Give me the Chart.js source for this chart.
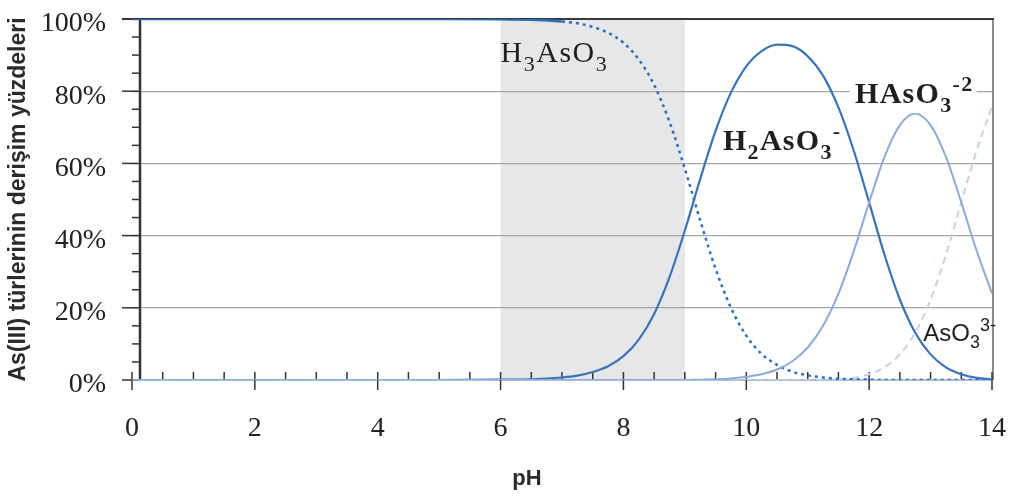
<!DOCTYPE html>
<html>
<head>
<meta charset="utf-8">
<script src="https://cdn.jsdelivr.net/npm/chart.js@4/dist/chart.umd.min.js"></script>
<style>
  html, body { margin: 0; padding: 0; background: #fff; }
  #wrap { width: 1011px; height: 498px; }
</style>
</head>
<body>
<div id="wrap"><canvas id="chart" width="1011" height="498"></canvas></div>
<script>
// pH points and species percentages
const ph = [0, 1, 2, 3, 4, 5, 6, 6.5, 7,
  7.25, 7.5, 7.75, 8, 8.25, 8.5, 8.75, 9, 9.25, 9.5, 9.75, 10,
  10.25, 10.5, 10.75, 11, 11.25, 11.5, 11.75, 12, 12.25, 12.5, 12.75, 13,
  13.25, 13.5, 13.75, 14];

const h3aso3 = [100, 100, 100, 100, 100, 100, 99.9, 99.8, 99.3,
  98.8, 97.8, 96.2, 93.4, 88.8, 81.7, 71.5, 58.5, 44.2, 30.8, 20.0, 12.3,
  7.2, 4.2, 2.3, 1.3, 0.7, 0.3, 0.2, 0.1, 0, 0, 0, 0,
  0, 0, 0, 0];

const h2aso3 = [0, 0, 0, 0, 0, 0, 0.1, 0.2, 0.7,
  1.2, 2.2, 3.8, 6.6, 11.2, 18.3, 28.5, 41.4, 55.7, 69.0, 79.6, 86.9,
  91.1, 92.9, 92.5, 89.7, 84.3, 75.5, 63.5, 49.2, 34.7, 22.3, 13.1, 7.1,
  3.5, 1.6, 0.6, 0.2];

const haso3 = [0, 0, 0, 0, 0, 0, 0, 0, 0,
  0, 0, 0, 0, 0, 0, 0, 0, 0.1, 0.2, 0.4, 0.9,
  1.6, 2.9, 5.2, 9.0, 15.0, 23.9, 35.7, 49.2, 61.8, 70.6, 73.8, 70.6,
  61.8, 49.2, 35.8, 24.0];

const aso3 = [0, 0, 0, 0, 0, 0, 0, 0, 0,
  0, 0, 0, 0, 0, 0, 0, 0, 0, 0, 0, 0,
  0, 0, 0, 0, 0.1, 0.2, 0.6, 1.6, 3.5, 7.1, 13.1, 22.3,
  34.7, 49.2, 63.6, 75.8];

const xTicks = [0, 2, 4, 6, 8, 10, 12, 14];
const yTicks = [0, 20, 40, 60, 80, 100];
const shaded = [6, 9]; // grey pH window

const pts = arr => ph.map((x, i) => ({ x, y: arr[i] }));

const SERIF = '"Liberation Serif", "Times New Roman", serif';
const SANS = '"Liberation Sans", Arial, sans-serif';

function line(ctx, x0, y0, x1, y1) {
  ctx.beginPath();
  ctx.moveTo(x0, y0);
  ctx.lineTo(x1, y1);
  ctx.stroke();
}

// draws formula pieces: [text, 'n' | 'sub' | 'sup']
function chem(ctx, x, y, parts, weight, family, size, spacing) {
  let cx = x;
  for (const [t, k] of parts) {
    const s = k === 'n' ? size : Math.round(size * 0.74);
    ctx.font = `${weight} ${s}px ${family}`;
    const dy = k === 'sub' ? size * 0.3 : k === 'sup' ? -size * 0.4 : 0;
    for (const ch of t) {
      ctx.fillText(ch, cx, y + dy);
      cx += ctx.measureText(ch).width + spacing;
    }
  }
  return cx;
}

const labels = [
  { at: [6.0, 88.1], weight: 'normal', family: SERIF, size: 30, spacing: 1.5,
    parts: [['H', 'n'], ['3', 'sub'], ['AsO', 'n'], ['3', 'sub']] },
  { at: [9.62, 63.7], weight: 'bold', family: SERIF, size: 30, spacing: 1.3,
    parts: [['H', 'n'], ['2', 'sub'], ['AsO', 'n'], ['3', 'sub'], ['-', 'sup']] },
  { at: [11.77, 76.7], weight: 'bold', family: SERIF, size: 30, spacing: 1.3, knockout: true,
    parts: [['HAsO', 'n'], ['3', 'sub'], ['-2', 'sup']] },
  { at: [12.88, 10.8], weight: 'normal', family: SANS, size: 24, spacing: 0,
    parts: [['AsO', 'n'], ['3', 'sub'], ['3-', 'sup']] }
];

const decor = {
  id: 'decor',
  beforeDraw(chart) {
    const { ctx, chartArea: a, scales: { x } } = chart;
    const x0 = x.getPixelForValue(shaded[0]);
    const x1 = x.getPixelForValue(shaded[1]);
    ctx.save();
    ctx.fillStyle = '#e6e7e9';
    ctx.fillRect(x0, a.top, x1 - x0, a.bottom - a.top);
    ctx.restore();
  },
  beforeDatasetsDraw(chart) {
    const { ctx, chartArea: a, scales: { x, y } } = chart;
    ctx.save();
    ctx.lineCap = 'butt';
    // frame
    ctx.strokeStyle = '#8a8a8a';
    ctx.lineWidth = 2;
    line(ctx, a.right + 1, a.top, a.right + 1, a.bottom);
    ctx.strokeStyle = '#3a3a3a';
    line(ctx, a.left - 10, a.top, a.right + 2, a.top);
    // left axis, sits a little inside the plot
    const ax = a.left + 8;
    ctx.strokeStyle = '#333';
    ctx.lineWidth = 2.5;
    line(ctx, ax, a.top, ax, a.bottom);
    ctx.lineWidth = 1.5;
    for (let v = 0; v <= 100; v += 5) {
      const py = y.getPixelForValue(v);
      line(ctx, v % 20 === 0 ? a.left - 10 : a.left, py, ax, py);
    }
    // bottom axis
    ctx.strokeStyle = '#8faadc';
    ctx.lineWidth = 1.5;
    line(ctx, a.left, a.bottom, a.right, a.bottom);
    ctx.strokeStyle = '#333';
    for (let v = 0; v <= 14; v += 0.5) {
      const px = x.getPixelForValue(v);
      line(ctx, px, a.bottom - 8, px, v % 2 === 0 ? a.bottom + 10 : a.bottom - 1);
    }
    ctx.restore();
  },
  afterDraw(chart) {
    const { ctx, chartArea: a, scales: { x, y } } = chart;
    ctx.save();
    ctx.textBaseline = 'alphabetic';
    ctx.textAlign = 'left';
    for (const l of labels) {
      const px = x.getPixelForValue(l.at[0]);
      const py = y.getPixelForValue(l.at[1]);
      if (l.knockout) {
        ctx.globalAlpha = 0;
        const end = chem(ctx, px, py, l.parts, l.weight, l.family, l.size, l.spacing);
        ctx.globalAlpha = 1;
        ctx.fillStyle = '#fff';
        ctx.fillRect(px - 5, py - l.size, end - px + 8, l.size + 10);
      }
      ctx.fillStyle = '#1f1f1f';
      chem(ctx, px, py, l.parts, l.weight, l.family, l.size, l.spacing);
    }
    // x axis title
    ctx.fillStyle = '#2b2b2b';
    ctx.font = `bold 22px ${SANS}`;
    ctx.textAlign = 'center';
    ctx.textBaseline = 'middle';
    ctx.fillText('pH', (a.left + a.right) / 2 - 35, 479);
    ctx.restore();
  }
};

const noPad = s => {
  s.paddingTop = 0; s.paddingBottom = 0;
  s.paddingLeft = 0; s.paddingRight = 0;
};

new Chart(document.getElementById('chart'), {
  type: 'line',
  data: {
    datasets: [
      {
        label: 'HAsO3-2',
        data: pts(haso3),
        borderColor: '#8eaad8',
        borderWidth: 2,
        order: 0
      },
      {
        label: 'H3AsO3',
        data: pts(h3aso3),
        borderColor: '#2e6fba',
        borderWidth: 2.5,
        segment: { borderDash: c => c.p0.parsed.x >= 7 ? [3, 4] : [] },
        order: 1
      },
      {
        label: 'H2AsO3-',
        data: pts(h2aso3),
        borderColor: '#3b73b9',
        borderWidth: 2.2,
        order: 2
      },
      {
        label: 'AsO3 3-',
        data: pts(aso3),
        borderColor: '#c3d2ec',
        borderWidth: 2,
        borderDash: [7, 5],
        order: 3
      }
    ]
  },
  options: {
    responsive: false,
    animation: false,
    devicePixelRatio: 1,
    layout: { padding: { top: 19, right: 19, left: 0, bottom: 0 } },
    elements: {
      point: { radius: 0 },
      line: { cubicInterpolationMode: 'monotone', fill: false }
    },
    plugins: { legend: { display: false }, tooltip: { enabled: false } },
    scales: {
      x: {
        type: 'linear',
        min: 0,
        max: 14,
        afterFit: s => { s.height = 118; noPad(s); },
        afterBuildTicks: s => { s.ticks = xTicks.map(v => ({ value: v })); },
        grid: { display: false, drawTicks: false },
        border: { display: false },
        ticks: {
          autoSkip: false,
          maxRotation: 0,
          padding: 32,
          color: '#222',
          font: { family: SERIF, size: 28 }
        }
      },
      y: {
        min: 0,
        max: 100,
        afterFit: s => { s.width = 132; noPad(s); },
        afterBuildTicks: s => { s.ticks = yTicks.map(v => ({ value: v })); },
        grid: {
          drawTicks: false,
          color: c => (c.tick && (c.tick.value === 0 || c.tick.value === 100)) ? 'rgba(0,0,0,0)' : '#a6a6a6',
          lineWidth: 1.2
        },
        border: { display: false },
        ticks: {
          padding: 26,
          labelOffset: 5,
          color: '#222',
          font: { family: SERIF, size: 28 },
          callback: v => v + '%'
        },
        title: {
          display: true,
          text: 'As(III) türlerinin derişim yüzdeleri',
          color: '#2b2b2b',
          font: { family: SANS, size: 23, weight: 'bold' },
          padding: { top: 5, bottom: 0 }
        }
      }
    }
  },
  plugins: [decor]
});
</script>
</body>
</html>
